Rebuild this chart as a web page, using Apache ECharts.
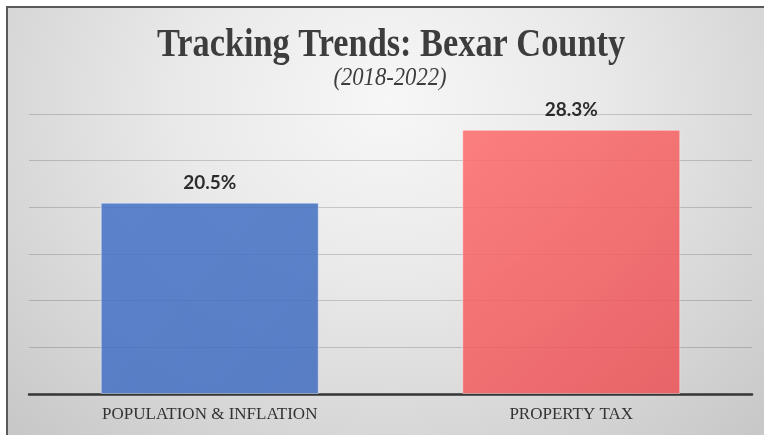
<!DOCTYPE html>
<html>
<head>
<meta charset="utf-8">
<script src="https://cdn.jsdelivr.net/npm/echarts@6/dist/echarts.min.js"></script>
<style>
  html, body { margin: 0; padding: 0; background: #ffffff; }
  #wrap { position: relative; width: 764px; height: 435px; overflow: hidden; }
  #frame {
    position: absolute; left: 6px; top: 6px; right: -4px; bottom: -4px;
    border-left: 2px solid #5a5a5a; border-top: 2px solid #5a5a5a;
    background: radial-gradient(ellipse 70% 105% at 50% 22%, #f7f7f7 0%, #e9e9e9 40%, #d6d6d6 75%, #c8c8c8 100%);
  }
  #chart { position: absolute; left: 0; top: 0; width: 764px; height: 435px; }
</style>
</head>
<body>
<div id="wrap">
  <div id="frame"></div>
  <div id="chart"></div>
</div>
<script>
// Percent change 2018-2022, Bexar County
const categories = ['POPULATION & INFLATION', 'PROPERTY TAX'];
const changePct = [20.5, 28.3];
const axisMax = 30;
const axisStep = 5;

const titleText = 'Tracking Trends: Bexar County';
const subtitleText = '(2018-2022)';

// fill for each bar: [top-left, bottom-right]
const barFills = [
  ['rgb(72,116,198)', 'rgb(70,112,194)'],
  ['rgb(252,110,110)', 'rgb(234,84,88)']
];

const chart = echarts.init(document.getElementById('chart'), null, { renderer: 'canvas' });

chart.setOption({
  backgroundColor: 'transparent',
  animation: false,
  graphic: [
    {
      type: 'text', x: 391, y: 46, scaleX: 0.88,
      style: {
        text: titleText, x: 0, y: 0,
        font: 'bold 39px "Liberation Serif", "Times New Roman", serif',
        textAlign: 'center', textVerticalAlign: 'middle', fill: '#3d3d3d'
      }
    },
    {
      type: 'text', x: 390, y: 78, scaleX: 0.87,
      style: {
        text: subtitleText, x: 0, y: 0,
        font: 'italic 26px "Liberation Serif", "Times New Roman", serif',
        textAlign: 'center', textVerticalAlign: 'middle', fill: '#3d3d3d'
      }
    }
  ],
  grid: { left: 29, right: 12, top: 114, bottom: 41, containLabel: false },
  xAxis: {
    type: 'category',
    data: categories,
    axisTick: { show: false },
    axisLine: { show: true, lineStyle: { color: '#353535', width: 2.5 } },
    axisLabel: {
      margin: 12,
      color: '#333333',
      fontFamily: '"Liberation Serif", "Times New Roman", serif',
      fontSize: 17
    }
  },
  yAxis: {
    type: 'value',
    min: 0, max: axisMax, interval: axisStep,
    axisLabel: { show: false },
    axisLine: { show: false },
    axisTick: { show: false },
    splitLine: { lineStyle: { color: 'rgba(0,0,0,0.17)', width: 1 } }
  },
  series: [{
    type: 'bar',
    barWidth: '60.3%',
    data: changePct.map((v, i) => ({
      value: v,
      itemStyle: {
        color: {
          type: 'linear', x: 0, y: 0, x2: 1, y2: 1,
          colorStops: [
            { offset: 0, color: barFills[i][0] },
            { offset: 1, color: barFills[i][1] }
          ]
        }
      }
    })),
    itemStyle: {
      opacity: 0.88,
      borderColor: 'rgba(255,255,255,0.45)',
      borderWidth: 1
    },
    label: {
      show: true,
      position: 'top',
      distance: 10,
      formatter: p => p.value.toFixed(1) + '%',
      color: '#111111',
      fontFamily: 'Lato, "Open Sans", sans-serif',
      fontWeight: 'bold',
      fontSize: 19
    }
  }]
});
</script>
</body>
</html>
